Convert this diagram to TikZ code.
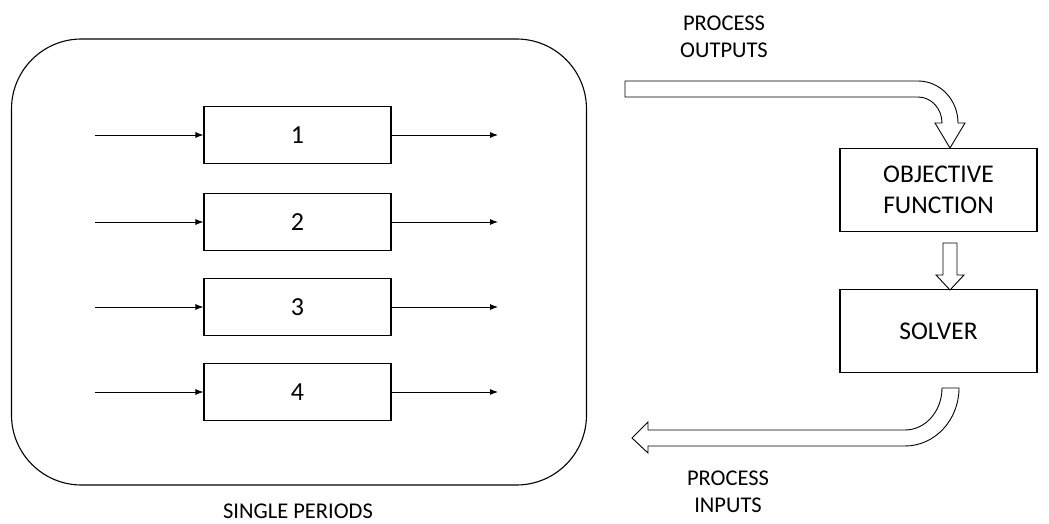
\documentclass[tikz,border=0pt]{standalone}
\usepackage{fontspec}
\setmainfont{Carlito}
\usetikzlibrary{arrows.meta}
\begin{document}
\begin{tikzpicture}[x=1pt,y=-1pt,
  lbl/.style={font=\fontsize{22.5}{27}\selectfont, align=center, inner sep=0pt},
  procbox/.style={draw, line width=1.1pt, minimum width=187pt, minimum height=57pt, inner sep=0pt, font=\fontsize{26}{30}\selectfont},
  sidebox/.style={draw, line width=1.1pt, minimum width=197pt, minimum height=83pt, inner sep=0pt, font=\fontsize{25.5}{31}\selectfont, align=center},
  flow/.style={-{Latex[length=8pt,width=6pt]}, line width=0.9pt},
  blockarrow/.style={draw, line width=0.9pt, fill=white, line join=miter}]
\useasboundingbox (0,0) rectangle (1049,524);

% container of the single periods
\node[draw, line width=1.1pt, rounded corners=70pt, minimum width=575pt, minimum height=446pt, inner sep=0pt] (frame) at (299,262) {};
\node[lbl] (frametitle) at (298,511) {SINGLE PERIODS};

% the four periods with their inputs and outputs
\foreach \i/\y in {1/135, 2/222, 3/307, 4/392}{
  \node[procbox] (p\i) at (297.5,\y) {\i};
  \coordinate (in\i) at (95,\y);
  \coordinate (out\i) at (498,\y);
  \draw[flow] (in\i) -- (p\i.west);
  \draw[flow] (p\i.east) -- (out\i);
}

% optimisation side
\node[sidebox] (obj) at (938.5,190) {OBJECTIVE\\FUNCTION};
\node[sidebox] (solver) at (938.5,331) {SOLVER};

% block arrow from objective function to solver
\draw[blockarrow] (943,243) -- (957,243) -- (957,275) -- (964,275) -- (950,290)
  -- (936,275) -- (943,275) -- cycle;

% curved block arrow carrying the process outputs
\draw[blockarrow] (625,81) -- (918,81) arc[start angle=-90, end angle=0, x radius=40, y radius=42]
  -- (965,123) -- (950,148) -- (935,123) -- (942,123)
  arc[start angle=0, end angle=-90, x radius=24, y radius=26] -- (625,97) -- cycle;
\node[lbl] (outlbl) at (724,37) {PROCESS\\OUTPUTS};

% curved block arrow carrying the process inputs
\draw[blockarrow] (959,388) arc[start angle=0, end angle=90, x radius=54, y radius=58]
  -- (648,446) -- (648,453) -- (632,438) -- (648,422) -- (648,430) -- (905,430)
  arc[start angle=90, end angle=0, x radius=37, y radius=42] -- cycle;
\node[lbl] (inlbl) at (728,492) {PROCESS\\INPUTS};
\end{tikzpicture}
\end{document}
